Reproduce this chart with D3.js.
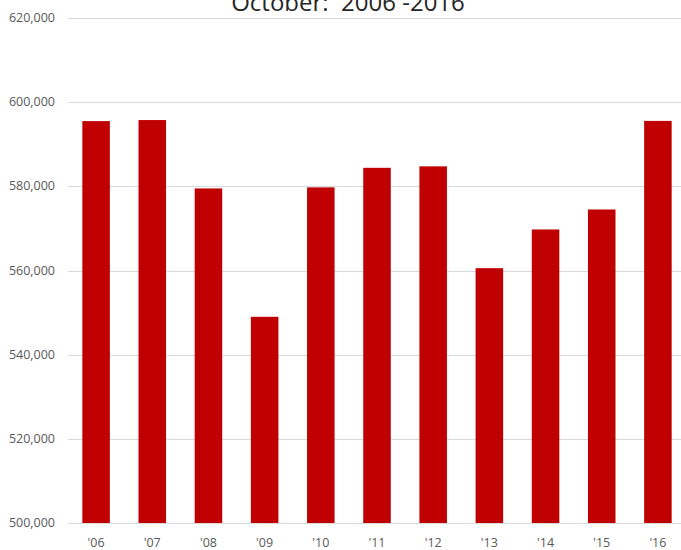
<!DOCTYPE html>
<html>
<head>
<meta charset="utf-8">
<script src="https://cdn.jsdelivr.net/npm/d3@7"></script>
<style>
  body { margin: 0; background: #fff; }
  svg { display: block; }
</style>
</head>
<body>
<div id="chart"></div>
<script>
"use strict";

// ---------------------------------------------------------------------------
// Data
// ---------------------------------------------------------------------------

const years = ["'06", "'07", "'08", "'09", "'10", "'11", "'12", "'13", "'14", "'15", "'16"];
const values = [595500, 595750, 579500, 549000, 579750, 584400, 584750, 560550, 569750, 574500, 595550];
const yTicks = [500000, 520000, 540000, 560000, 580000, 600000, 620000];
const title = "October:  2006 -2016";

// ---------------------------------------------------------------------------
// Layout
// ---------------------------------------------------------------------------

const width = 681;
const height = 550;
const plot = { left: 68, right: 686, top: 18, bottom: 523 };

const svg = d3.select("#chart")
  .append("svg")
  .attr("width", width)
  .attr("height", height);

const x = d3.scaleBand()
  .domain(years)
  .range([plot.left, plot.right])
  .paddingInner(0.51)
  .paddingOuter(0.255);

const y = d3.scaleLinear()
  .domain([500000, 620000])
  .range([plot.bottom, plot.top]);

// Gridlines
svg.append("g")
  .selectAll("line")
  .data(yTicks)
  .join("line")
  .attr("x1", plot.left)
  .attr("x2", plot.right)
  .attr("y1", (d) => Math.round(y(d)) + 0.5)
  .attr("y2", (d) => Math.round(y(d)) + 0.5)
  .attr("stroke", "#d9d9d9")
  .attr("stroke-width", 1);

// Y tick labels
svg.append("g")
  .selectAll("text")
  .data(yTicks)
  .join("text")
  .attr("x", 55)
  .attr("y", (d) => y(d) + 4)
  .attr("text-anchor", "end")
  .attr("fill", "#595959")
  .attr("font-family", "'Open Sans', sans-serif")
  .attr("font-size", "12.5px")
  .text((d) => d3.format(",")(d));

// Bars
svg.append("g")
  .selectAll("rect")
  .data(values)
  .join("rect")
  .attr("x", (d, i) => x(years[i]))
  .attr("y", (d) => y(d))
  .attr("width", x.bandwidth())
  .attr("height", (d) => y(500000) - y(d))
  .attr("fill", "#c00000");

// X labels
svg.append("g")
  .selectAll("text")
  .data(years)
  .join("text")
  .attr("x", (d) => x(d) + x.bandwidth() / 2)
  .attr("y", 547)
  .attr("text-anchor", "middle")
  .attr("fill", "#595959")
  .attr("font-family", "'Open Sans', sans-serif")
  .attr("font-size", "12.5px")
  .text((d) => d);

// Title (clipped at the top edge, as in the source)
svg.append("text")
  .attr("x", 348)
  .attr("y", 11)
  .attr("text-anchor", "middle")
  .attr("fill", "#262626")
  .attr("font-family", "'Open Sans', sans-serif")
  .attr("font-size", "24px")
  .style("white-space", "pre")
  .text(title);
</script>
</body>
</html>
